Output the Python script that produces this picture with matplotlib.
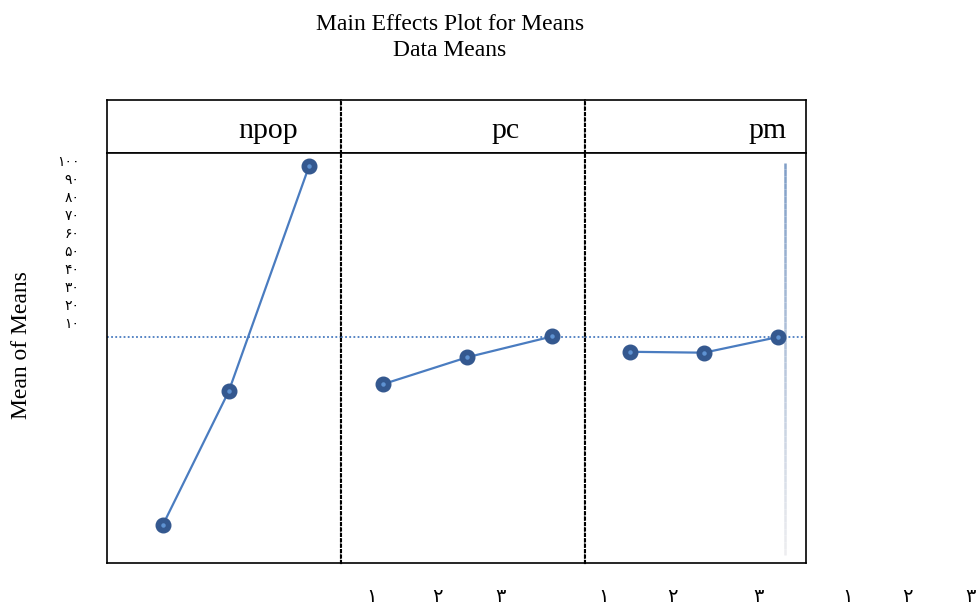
import matplotlib.pyplot as plt
import numpy as np
from matplotlib.collections import LineCollection

# factors and their level means (in the y-tick scale)
factors = ['npop', 'pc', 'pm']
level_pos = [[1, 1.9, 3], [1, 2, 3], [1, 2, 3]]
means = [
    [-102.0, -28.0, 97.0],
    [-24.0, -9.0, 2.5],
    [-6.0, -6.5, 2.2],
]
grand_mean = 2.2

ytick_vals = [10, 20, 30, 40, 50, 60, 70, 80, 90, 100]
ytick_text = ['۱۰', '۲۰', '۳۰', '۴۰', '۵۰', '۶۰', '۷۰', '۸۰', '۹۰', '۱۰۰']
xtick_text = ['۱', '۲', '۳', '۱', '۲', '۳', '۱', '۲', '۳']

# stray vertical line in the pm panel
stray_x = 3.09
stray_y = (-119.0, 99.0)

# layout (pixels of the 978x608 picture)
W, H = 978, 608
col_px = [234, 244, 221]
xlims = [(0.233, 3.438), (0.503, 3.391), (0.392, 3.378)]
ylim = (-123.3, 104.4)
header_text_x = [0.816, 0.734, 0.91]
xtick_px = [372, 437, 500, 604, 672, 758, 848, 907, 970]

LINE = '#4a7cc0'
MARK = '#34588f'
SERIF = ['Liberation Serif', 'DejaVu Sans']

fig = plt.figure(figsize=(W / 100, H / 100), dpi=100)
gs = fig.add_gridspec(2, 3, left=107 / W, right=806 / W, bottom=1 - 563 / H,
                      top=1 - 100 / H, width_ratios=col_px,
                      height_ratios=[53, 410], wspace=0, hspace=0)


def style_spines(ax, i):
    for s in ax.spines.values():
        s.set_color('black')
        s.set_linewidth(1.2)
    if i > 0:
        ax.spines['left'].set_linestyle((0, (1, 1.6)))
        ax.spines['left'].set_linewidth(1.5)
    if i < 2:
        ax.spines['right'].set_linestyle((0, (1, 1.6)))
        ax.spines['right'].set_linewidth(1.5)


for i, name in enumerate(factors):
    hx = fig.add_subplot(gs[0, i])
    hx.set_xticks([])
    hx.set_yticks([])
    style_spines(hx, i)
    hx.text(header_text_x[i], 0.42, name, transform=hx.transAxes, ha='right',
            va='center', fontsize=21.5, family=SERIF)

    ax = fig.add_subplot(gs[1, i])
    style_spines(ax, i)
    ax.set_xlim(*xlims[i])
    ax.set_ylim(*ylim)
    ax.set_xticks([])
    ax.axhline(grand_mean, color=LINE, lw=1.3, ls=(0, (1, 1.3)), zorder=1)
    ax.plot(level_pos[i], means[i], color=LINE, lw=1.6, zorder=2)
    ax.plot(level_pos[i], means[i], 'o', ms=10.5, color=MARK, zorder=3)
    ax.plot(level_pos[i], means[i], 'o', ms=2.2, color='#5f93d3', zorder=4)
    if i == 0:
        ax.set_yticks(ytick_vals)
        ax.set_yticklabels(ytick_text, family=SERIF, fontsize=10)
        ax.tick_params(axis='y', length=0, pad=20)
    else:
        ax.set_yticks([])
    if i == 2:
        ys = np.linspace(stray_y[0], stray_y[1], 60)
        pts = np.column_stack([np.full_like(ys, stray_x), ys]).reshape(-1, 1, 2)
        segs = np.concatenate([pts[:-1], pts[1:]], axis=1)
        t = np.linspace(0, 1, len(segs))
        c0 = np.array([0.93, 0.93, 0.94])
        c1 = np.array([0.50, 0.62, 0.78])
        cols = [tuple(c0 + (c1 - c0) * v) for v in t]
        ax.add_collection(LineCollection(segs, colors=cols, lw=1.8, zorder=2))

for px, lab in zip(xtick_px, xtick_text):
    fig.text(px / W, 1 - 598 / H, lab, ha='center', va='center', fontsize=14,
             family=SERIF)

fig.text(0.46, 1 - 24 / H, 'Main Effects Plot for Means', ha='center',
         va='center', fontsize=17, family=SERIF)
fig.text(0.46, 1 - 50 / H, 'Data Means', ha='center', va='center',
         fontsize=17, family=SERIF)
fig.text(22 / W, 1 - 345 / H, 'Mean of Means', rotation=90, ha='center',
         va='center', fontsize=17, family=SERIF)

fig.savefig('out.png', dpi=100)
